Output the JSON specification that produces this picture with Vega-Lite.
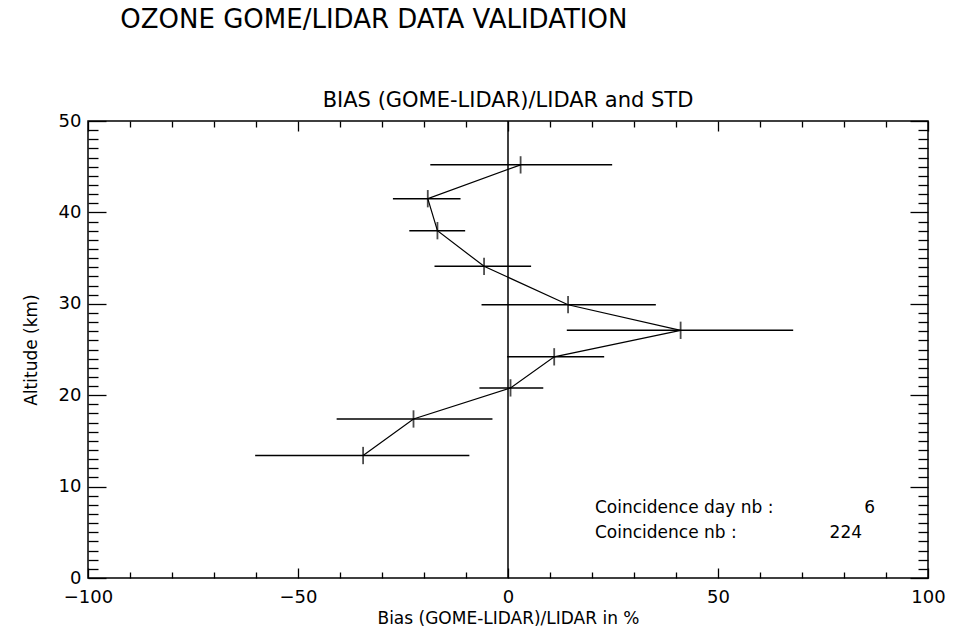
{
  "$schema": "https://vega.github.io/schema/vega-lite/v6.json",
  "width": 840,
  "height": 457,
  "autosize": "none",
  "padding": {"left": 88, "top": 121, "right": 39, "bottom": 57},
  "background": "white",
  "config": {
    "view": {"stroke": "black", "strokeWidth": 1.5},
    "font": "DejaVu Sans",
    "axis": {"labelColor": "black", "titleColor": "black", "tickColor": "black", "labelFont": "DejaVu Sans", "titleFont": "DejaVu Sans", "titleFontWeight": "normal"}
  },
  "datasets": {
    "profile": [
      {"alt": 45.2, "bias": 3.0, "lo": -18.5, "hi": 24.8},
      {"alt": 41.5, "bias": -19.1, "lo": -27.4, "hi": -11.3},
      {"alt": 38.0, "bias": -16.8, "lo": -23.5, "hi": -10.2},
      {"alt": 34.1, "bias": -5.7, "lo": -17.5, "hi": 5.5},
      {"alt": 29.9, "bias": 14.3, "lo": -6.3, "hi": 35.2},
      {"alt": 27.1, "bias": 41.1, "lo": 14.0, "hi": 67.9},
      {"alt": 24.2, "bias": 11.0, "lo": -0.2, "hi": 22.9},
      {"alt": 20.8, "bias": 0.6, "lo": -6.8, "hi": 8.4},
      {"alt": 17.4, "bias": -22.5, "lo": -40.8, "hi": -3.7},
      {"alt": 13.4, "bias": -34.5, "lo": -60.2, "hi": -9.2}
    ],
    "one": [{"k": 1}]
  },
  "resolve": {"axis": {"x": "independent", "y": "independent"}},
  "layer": [
    {
      "data": {"name": "profile"},
      "mark": {"type": "rule", "color": "black", "strokeWidth": 1.5},
      "encoding": {
        "x": {"field": "lo", "type": "quantitative",
              "scale": {"domain": [-100, 100], "nice": false, "zero": false},
              "axis": {"orient": "bottom", "values": [-100, -50, 0, 50, 100], "ticks": false, "domain": false, "grid": false,
                       "labelFontSize": 18, "labelPadding": 10, "labelFlush": false,
                       "title": "Bias (GOME-LIDAR)/LIDAR in %", "titleFontSize": 17, "titlePadding": 4}},
        "x2": {"field": "hi"},
        "y": {"field": "alt", "type": "quantitative",
              "scale": {"domain": [0, 50], "nice": false},
              "axis": {"orient": "left", "values": [0, 10, 20, 30, 40, 50], "ticks": false, "domain": false, "grid": false,
                       "labelFontSize": 18, "labelPadding": 7, "labelFlush": false,
                       "title": "Altitude (km)", "titleFontSize": 17, "titlePadding": 18}}
      }
    },
    {
      "data": {"name": "profile"},
      "mark": {"type": "line", "color": "black", "strokeWidth": 1.2},
      "encoding": {
        "x": {"field": "bias", "type": "quantitative",
              "axis": {"orient": "bottom", "values": [-100, -90, -80, -70, -60, -50, -40, -30, -20, -10, 0, 10, 20, 30, 40, 50, 60, 70, 80, 90, 100],
                       "labels": false, "domain": false, "grid": false, "title": null, "tickWidth": 1.3,
                       "tickSize": {"condition": {"test": "datum.value % 50 === 0", "value": -10}, "value": -6}}},
        "y": {"field": "alt", "type": "quantitative",
              "axis": {"orient": "left", "values": [0,1,2,3,4,5,6,7,8,9,10,11,12,13,14,15,16,17,18,19,20,21,22,23,24,25,26,27,28,29,30,31,32,33,34,35,36,37,38,39,40,41,42,43,44,45,46,47,48,49,50],
                       "labels": false, "domain": false, "grid": false, "title": null, "tickWidth": 1.3,
                       "tickSize": {"condition": {"test": "datum.value % 10 === 0", "value": -18}, "value": -10}}},
        "order": {"field": "alt", "type": "quantitative"}
      }
    },
    {
      "data": {"name": "profile"},
      "mark": {"type": "point", "shape": "M0,-1L0,1", "color": "black", "filled": false, "strokeWidth": 1.8, "size": 300},
      "encoding": {
        "x": {"field": "bias", "type": "quantitative",
              "axis": {"orient": "top", "values": [-100, -90, -80, -70, -60, -50, -40, -30, -20, -10, 0, 10, 20, 30, 40, 50, 60, 70, 80, 90, 100],
                       "labels": false, "domain": false, "grid": false, "title": null, "tickWidth": 1.3,
                       "tickSize": {"condition": {"test": "datum.value % 50 === 0", "value": -10}, "value": -6}}},
        "y": {"field": "alt", "type": "quantitative",
              "axis": {"orient": "right", "values": [0,1,2,3,4,5,6,7,8,9,10,11,12,13,14,15,16,17,18,19,20,21,22,23,24,25,26,27,28,29,30,31,32,33,34,35,36,37,38,39,40,41,42,43,44,45,46,47,48,49,50],
                       "labels": false, "domain": false, "grid": false, "title": null, "tickWidth": 1.3,
                       "tickSize": {"condition": {"test": "datum.value % 10 === 0", "value": -18}, "value": -10}}}
      }
    },
    {
      "data": {"name": "one"},
      "mark": {"type": "rule", "color": "black", "strokeWidth": 1.5},
      "encoding": {"x": {"datum": 0, "type": "quantitative", "axis": null}}
    },
    {
      "data": {"name": "one"},
      "mark": {"type": "text", "text": "OZONE GOME/LIDAR DATA VALIDATION", "align": "left", "baseline": "middle", "fontSize": 26, "color": "black"},
      "encoding": {"x": {"datum": -92.3, "type": "quantitative", "axis": null}, "y": {"datum": 61.0, "type": "quantitative", "axis": null}}
    },
    {
      "data": {"name": "one"},
      "mark": {"type": "text", "text": "BIAS (GOME-LIDAR)/LIDAR and STD", "align": "center", "baseline": "middle", "fontSize": 21, "color": "black"},
      "encoding": {"x": {"datum": 0, "type": "quantitative", "axis": null}, "y": {"datum": 52.2, "type": "quantitative", "axis": null}}
    },
    {
      "data": {"name": "one"},
      "mark": {"type": "text", "text": "Coincidence day nb :", "align": "left", "baseline": "middle", "fontSize": 17, "color": "black"},
      "encoding": {"x": {"datum": 20.7, "type": "quantitative", "axis": null}, "y": {"datum": 7.66, "type": "quantitative", "axis": null}}
    },
    {
      "data": {"name": "one"},
      "mark": {"type": "text", "text": "6", "align": "right", "baseline": "middle", "fontSize": 17, "color": "black"},
      "encoding": {"x": {"datum": 87.4, "type": "quantitative", "axis": null}, "y": {"datum": 7.66, "type": "quantitative", "axis": null}}
    },
    {
      "data": {"name": "one"},
      "mark": {"type": "text", "text": "Coincidence nb :", "align": "left", "baseline": "middle", "fontSize": 17, "color": "black"},
      "encoding": {"x": {"datum": 20.7, "type": "quantitative", "axis": null}, "y": {"datum": 4.9, "type": "quantitative", "axis": null}}
    },
    {
      "data": {"name": "one"},
      "mark": {"type": "text", "text": "224", "align": "right", "baseline": "middle", "fontSize": 17, "color": "black"},
      "encoding": {"x": {"datum": 84.3, "type": "quantitative", "axis": null}, "y": {"datum": 4.9, "type": "quantitative", "axis": null}}
    }
  ]
}
